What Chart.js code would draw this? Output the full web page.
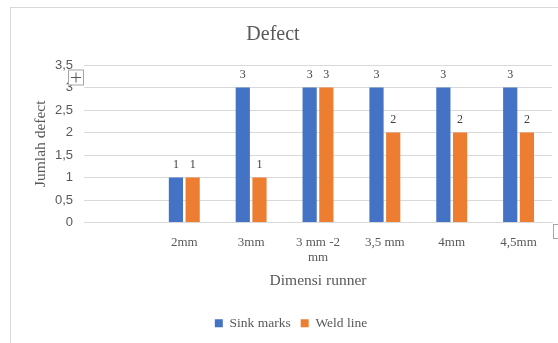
<!DOCTYPE html>
<html>
<head>
<meta charset="utf-8">
<script src="https://cdn.jsdelivr.net/npm/chart.js@4"></script>
<style>
  html, body { margin: 0; padding: 0; background: #fff; overflow: hidden; }
  #frame { position: absolute; left: 10px; top: 7px; width: 600px; height: 400px; border: 1px solid #d9d9d9; }
  #wrap { position: absolute; left: 0; top: 0; width: 558px; height: 343px; }
</style>
</head>
<body>
<div id="frame"></div>
<div id="wrap"><canvas id="chart"></canvas></div>
<script>
// data
const categories = ['', '2mm', '3mm', ['3 mm -2', 'mm'], '3,5 mm', '4mm', '4,5mm']
const sinkMarks = [null, 1, 3, 3, 3, 3, 3]
const weldLine = [null, 1, 1, 3, 2, 2, 2]
const yMax = 3.5
const yStep = 0.5
const chartTitle = 'Defect'

const serif = '"Liberation Serif", "Times New Roman", serif'
const sans = '"Liberation Sans", Arial, sans-serif'
const grey = '#595959'

// title (off centre like the excel one), value labels, little excel handles
const extras = {
  id: 'extras',
  afterDatasetsDraw(chart) {
    const ctx = chart.ctx
    ctx.save()
    ctx.font = '20px ' + serif
    ctx.fillStyle = grey
    ctx.textAlign = 'center'
    ctx.textBaseline = 'middle'
    ctx.fillText(chartTitle, 273, 35)

    ctx.font = '12px ' + serif
    ctx.fillStyle = '#404040'
    ctx.textBaseline = 'bottom'
    chart.data.datasets.forEach((ds, i) => {
      chart.getDatasetMeta(i).data.forEach((bar, j) => {
        if (ds.data[j] == null) return
        ctx.fillText(String(ds.data[j]), bar.x, bar.y - 7)
      })
    })

    const y3 = chart.scales.y.getPixelForValue(3)
    ctx.strokeStyle = '#a6a6a6'
    ctx.lineWidth = 1
    ctx.fillStyle = '#fff'
    ctx.fillRect(68.5, y3 - 17.5, 15, 15)
    ctx.strokeRect(68.5, y3 - 17.5, 15, 15)
    ctx.strokeStyle = '#595959'
    ctx.beginPath()
    ctx.moveTo(71, y3 - 10); ctx.lineTo(81, y3 - 10)
    ctx.moveTo(76, y3 - 15); ctx.lineTo(76, y3 - 5)
    ctx.stroke()
    ctx.strokeStyle = '#a6a6a6'
    ctx.strokeRect(553.5, 224.5, 8, 14)
    ctx.restore()
  }
}

const ctx = document.getElementById('chart').getContext('2d')
const chart = new Chart(ctx, {
  type: 'bar',
  data: {
    labels: categories,
    datasets: [
      { label: 'Sink marks', data: sinkMarks, backgroundColor: '#4472C4' },
      { label: 'Weld line', data: weldLine, backgroundColor: '#ED7D31' }
    ]
  },
  options: {
    responsive: true,
    maintainAspectRatio: false,
    animation: false,
    categoryPercentage: 0.5,
    barPercentage: 0.85,
    layout: { padding: { left: 30, right: 6, top: 65, bottom: 3 } },
    plugins: {
      title: { display: false },
      legend: {
        position: 'bottom',
        labels: {
          color: grey,
          boxWidth: 8,
          boxHeight: 8,
          font: { family: serif, size: 13.5 }
        }
      },
      tooltip: { enabled: false }
    },
    scales: {
      x: {
        grid: { display: false, drawTicks: false },
        border: { color: '#d9d9d9' },
        ticks: {
          color: grey,
          font: { family: serif, size: 13 },
          padding: 12,
          maxRotation: 0,
          autoSkip: false
        },
        title: {
          display: true,
          text: 'Dimensi runner',
          color: grey,
          font: { family: serif, size: 15.5 },
          padding: { top: 10, bottom: 16 }
        },
        afterFit: s => { s.height = 84 }
      },
      y: {
        min: 0,
        max: yMax,
        grid: { color: '#d9d9d9', drawTicks: false },
        border: { display: false },
        ticks: {
          stepSize: yStep,
          color: grey,
          font: { family: sans, size: 13 },
          padding: 11,
          callback: v => String(v).replace('.', ',')
        },
        title: {
          display: true,
          text: 'Jumlah defect',
          color: grey,
          font: { family: serif, size: 15.5 },
          padding: { top: 2, bottom: 2 }
        },
        afterFit: s => { s.width = 54 }
      }
    }
  },
  plugins: [extras]
})
</script>
</body>
</html>
